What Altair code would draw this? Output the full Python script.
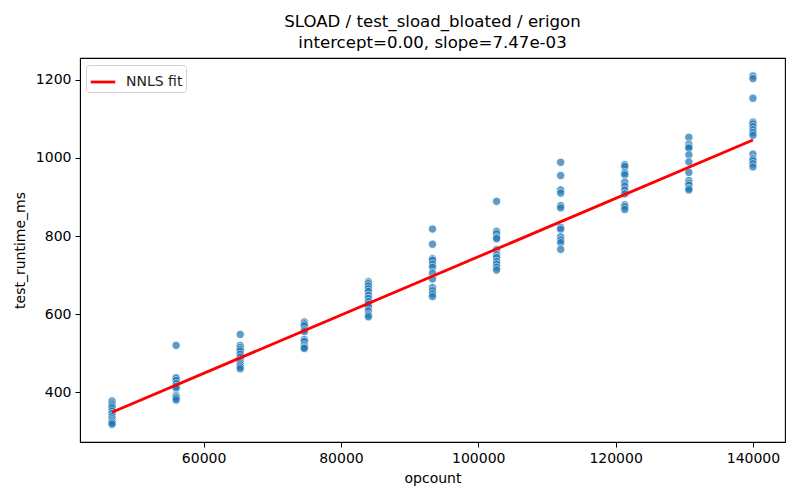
import altair as alt
import pandas as pd

# ---- data ----
opcount_levels = [46667, 56000, 65333, 74667, 84000, 93333, 102667, 112000, 121333, 130667, 140000]
runtime_by_level = [
    [378, 375, 370, 365, 360, 352, 345, 338, 332, 327, 322, 318],
    [520, 438, 435, 430, 422, 415, 410, 392, 388, 385, 380],
    [548, 520, 515, 510, 505, 497, 490, 482, 475, 470, 465, 460],
    [580, 575, 570, 560, 555, 535, 530, 520, 515, 512],
    [683, 678, 672, 665, 658, 648, 640, 632, 625, 618, 608, 598, 593],
    [818, 779, 742, 738, 728, 720, 705, 690, 668, 660, 652, 645],
    [889, 812, 806, 797, 793, 765, 752, 745, 735, 728, 720, 713],
    [989, 955, 918, 910, 878, 872, 822, 817, 798, 790, 783, 766],
    [983, 978, 962, 957, 938, 928, 918, 908, 880, 875, 868],
    [1053, 1035, 1028, 1025, 1008, 990, 963, 942, 935, 930, 922, 918],
    [1210, 1203, 1153, 1092, 1087, 1080, 1072, 1065, 1058, 1010, 998, 993, 985, 977],
]
intercept = 0.0
slope = 7.47e-3
fit_label = "NNLS fit"
title_lines = ["SLOAD / test_sload_bloated / erigon", "intercept=0.00, slope=7.47e-03"]
x_ticks = [60000, 80000, 100000, 120000, 140000]
y_ticks = [400, 600, 800, 1000, 1200]

rows = []
for x, ys in zip(opcount_levels, runtime_by_level):
    for y in ys:
        rows.append({"opcount": x, "test_runtime_ms": y})
pts = pd.DataFrame(rows)

xmin, xmax = min(opcount_levels), max(opcount_levels)
fit = pd.DataFrame({
    "opcount": [xmin, xmax],
    "test_runtime_ms": [intercept + slope * xmin, intercept + slope * xmax],
    "series": [fit_label, fit_label],
})

FONT = "DejaVu Sans"
xscale = alt.Scale(domain=[42000, 144667], nice=False, zero=False)
yscale = alt.Scale(domain=[272.5, 1256], nice=False, zero=False)

xaxis = alt.Axis(values=x_ticks, title="opcount", format="d", grid=False)
yaxis = alt.Axis(values=y_ticks, title="test_runtime_ms", format="d", grid=False)

points = alt.Chart(pts).mark_circle(
    size=68, color="#1f77b4", opacity=0.72, stroke="white", strokeWidth=0.8
).encode(
    x=alt.X("opcount:Q", scale=xscale, axis=xaxis),
    y=alt.Y("test_runtime_ms:Q", scale=yscale, axis=yaxis),
)

line = alt.Chart(fit).mark_line(strokeWidth=2.8).encode(
    x=alt.X("opcount:Q", scale=xscale),
    y=alt.Y("test_runtime_ms:Q", scale=yscale),
    color=alt.Color(
        "series:N",
        scale=alt.Scale(domain=[fit_label], range=["red"]),
        legend=alt.Legend(
            title=None, orient="none", legendX=6, legendY=7,
            symbolType="stroke", symbolStrokeWidth=2.8, symbolSize=600,
            labelFontSize=14, labelFont=FONT, labelColor="#222",
            fillColor="white", strokeColor="#d0d0d0", padding=3,
            cornerRadius=3, labelOffset=9,
        ),
    ),
)

chart = alt.layer(points, line).properties(
    width=705, height=384,
    title=alt.Title(
        title_lines, fontSize=16.6, font=FONT, fontWeight="normal",
        anchor="middle", offset=6, lineHeight=21, color="black",
    ),
    padding={"left": 72, "top": 50, "right": 7, "bottom": 50},
    autosize="none",
).configure_view(
    stroke="black", strokeWidth=1.1
).configure_axis(
    labelFont=FONT, titleFont=FONT, labelFontSize=14, titleFontSize=14,
    labelColor="black", titleColor="black", titleFontWeight="normal",
    domainColor="black", tickColor="black", tickSize=5, labelPadding=4,
    domain=True,
).configure_axisX(
    titlePadding=6,
).configure_axisY(
    titlePadding=8,
)

chart.save("out.html", embed_options={"renderer": "svg", "actions": False})
